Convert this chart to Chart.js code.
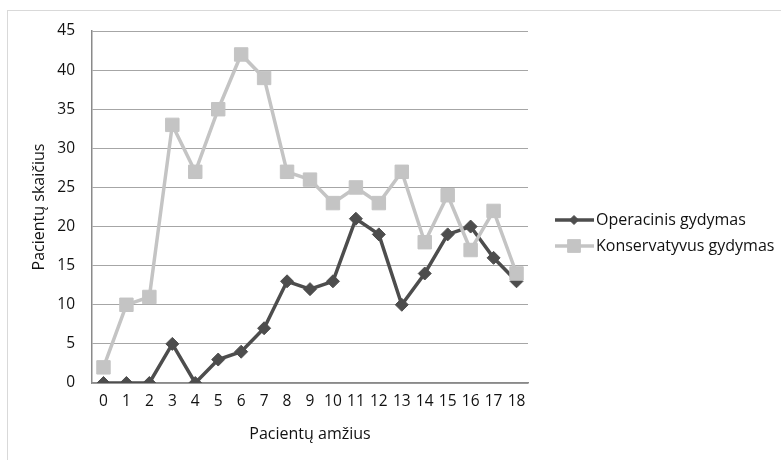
<!DOCTYPE html>
<html>
<head>
<meta charset="utf-8">
<script src="https://cdn.jsdelivr.net/npm/chart.js@4"></script>
<style>
  html, body { margin: 0; padding: 0; background: #fff; }
  #wrap { position: relative; width: 781px; height: 460px; overflow: hidden; }
  #frame { position: absolute; left: 7px; top: 10px; width: 800px; height: 500px; border: 1px solid #d9d9d9; box-sizing: border-box; }
  canvas { position: absolute; left: 0; top: 0; }
</style>
</head>
<body>
<div id="wrap">
  <div id="frame"></div>
  <canvas id="ageChart" width="781" height="460"></canvas>
</div>
<script>
'use strict';

// data ---------------------------------------------------------------------
let ages = ['0', '1', '2', '3', '4', '5', '6', '7', '8', '9', '10', '11', '12', '13', '14', '15', '16', '17', '18'];
let operacinis = [0, 0, 0, 5, 0, 3, 4, 7, 13, 12, 13, 21, 19, 10, 14, 19, 20, 16, 13];
let konservatyvus = [2, 10, 11, 33, 27, 35, 42, 39, 27, 26, 23, 25, 23, 27, 18, 24, 17, 22, 14];
let yTicks = [0, 5, 10, 15, 20, 25, 30, 35, 40, 45];

let fontFamily = '"Open Sans", "Noto Sans", sans-serif';
let textColor = '#111';
let darkGray = '#4d4d4d';
let lightGray = '#c4c4c4';

// legend on the right: line sample with the marker in its middle
let sideLegend = {
  id: 'sideLegend',
  afterDraw(chart) {
    let ctx = chart.ctx;
    let rows = [
      { ds: chart.data.datasets[0], y: 220 },
      { ds: chart.data.datasets[1], y: 246 }
    ];
    rows.forEach(function (row) {
      let ds = row.ds;
      ctx.save();
      ctx.strokeStyle = ds.borderColor;
      ctx.lineWidth = ds.borderWidth;
      ctx.beginPath();
      ctx.moveTo(555, row.y);
      ctx.lineTo(594, row.y);
      ctx.stroke();
      ctx.fillStyle = ds.pointBackgroundColor;
      ctx.strokeStyle = ds.pointBorderColor;
      ctx.lineWidth = 1;
      Chart.helpers.drawPoint(ctx, {
        pointStyle: ds.pointStyle,
        radius: ds.legendRadius,
        borderWidth: 1
      }, 574, row.y);
      ctx.fillStyle = textColor;
      ctx.font = '16px ' + fontFamily;
      ctx.textBaseline = 'middle';
      ctx.textAlign = 'left';
      ctx.fillText(ds.label, 596, row.y);
      ctx.restore();
    });
  }
};

let ctx = document.getElementById('ageChart').getContext('2d');
let myChart = new Chart(ctx, {
  type: 'line',
  data: {
    labels: ages,
    datasets: [{
      label: 'Operacinis gydymas',
      data: operacinis,
      borderColor: darkGray,
      backgroundColor: darkGray,
      borderWidth: 3.5,
      pointStyle: 'rectRot',
      pointRadius: 6.5,
      legendRadius: 4.5,
      pointBackgroundColor: darkGray,
      pointBorderColor: darkGray,
      pointBorderWidth: 1,
      tension: 0,
      order: 1
    },
    {
      label: 'Konservatyvus gydymas',
      data: konservatyvus,
      borderColor: lightGray,
      backgroundColor: lightGray,
      borderWidth: 3.5,
      pointStyle: 'rect',
      pointRadius: 9.5,
      legendRadius: 9,
      pointBackgroundColor: lightGray,
      pointBorderColor: lightGray,
      pointBorderWidth: 1,
      tension: 0,
      order: 0
    }]
  },
  options: {
    responsive: false,
    animation: false,
    layout: { padding: { top: 31, right: 253, left: 0, bottom: 0 } },
    plugins: {
      legend: { display: false },
      tooltip: { enabled: false }
    },
    scales: {
      x: {
        offset: true,
        grid: { display: false, drawTicks: false },
        border: { display: true, color: '#8a8a8a', width: 1.5 },
        ticks: {
          color: textColor,
          font: { family: fontFamily, size: 15.5 },
          padding: 9,
          autoSkip: false,
          maxRotation: 0
        },
        title: {
          display: true,
          text: 'Pacientų amžius',
          color: textColor,
          font: { family: fontFamily, size: 16 },
          padding: { top: 0, bottom: 16 }
        },
        afterFit(scale) { scale.height = 77; }
      },
      y: {
        min: 0,
        max: 45,
        afterBuildTicks(scale) { scale.ticks = yTicks.map(v => ({ value: v })); },
        grid: { color: '#a6a6a6', lineWidth: 1, drawTicks: false },
        border: { display: true, color: '#8a8a8a', width: 1.5 },
        ticks: {
          color: textColor,
          font: { family: fontFamily, size: 15.5 },
          padding: 17
        },
        title: {
          display: true,
          text: 'Pacientų skaičius',
          color: textColor,
          font: { family: fontFamily, size: 16 },
          padding: { top: 30, bottom: 0 }
        },
        afterFit(scale) { scale.width = 92; }
      }
    }
  },
  plugins: [sideLegend]
});
</script>
</body>
</html>
